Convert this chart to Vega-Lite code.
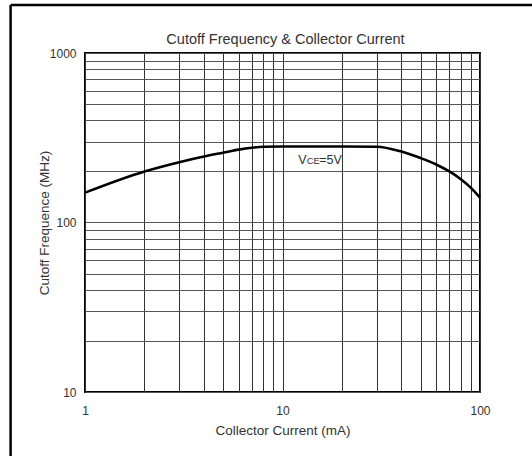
{
  "$schema": "https://vega.github.io/schema/vega-lite/v6.json",
  "autosize": {"type": "none"},
  "width": 395,
  "height": 339,
  "padding": {"left": 85, "top": 53, "right": 52, "bottom": 64},
  "background": "#ffffff",
  "config": {
    "font": "Liberation Sans",
    "view": {"stroke": "#000000", "strokeWidth": 2},
    "axis": {
      "labelFont": "Liberation Sans",
      "titleFont": "Liberation Sans",
      "labelFontSize": 12,
      "titleFontSize": 13.5,
      "titleFontWeight": "normal",
      "labelColor": "#333333",
      "titleColor": "#333333",
      "ticks": false,
      "domain": false,
      "labelOverlap": false,
      "labelFlush": false,
      "gridOpacity": 1
    }
  },
  "title": {
    "text": "Cutoff Frequency & Collector Current",
    "font": "Liberation Sans",
    "fontSize": 14.5,
    "fontWeight": "normal",
    "color": "#333333",
    "offset": -44,
    "frame": "group",
    "anchor": "middle",
    "dx": 3
  },
  "datasets": {
    "curve": [
      {"ic": 1, "ft": 150},
      {"ic": 2, "ft": 200},
      {"ic": 3, "ft": 227},
      {"ic": 4, "ft": 245},
      {"ic": 5, "ft": 258},
      {"ic": 6, "ft": 269},
      {"ic": 7, "ft": 276},
      {"ic": 8, "ft": 280},
      {"ic": 10, "ft": 281},
      {"ic": 20, "ft": 281},
      {"ic": 30, "ft": 280},
      {"ic": 40, "ft": 262},
      {"ic": 50, "ft": 240},
      {"ic": 60, "ft": 220},
      {"ic": 70, "ft": 200},
      {"ic": 80, "ft": 180},
      {"ic": 90, "ft": 160},
      {"ic": 100, "ft": 140}
    ],
    "labelV": [{"ic": 12, "ft": 220, "text": "V"}],
    "labelCE": [{"ic": 12, "ft": 220, "text": "CE"}],
    "label5V": [{"ic": 12, "ft": 220, "text": "=5V"}],
    "frame": [
      {"x1": 0.42, "x2": 0.42, "y1": 1919, "y2": 4},
      {"x1": 0.42, "x2": 200, "y1": 1919, "y2": 1919}
    ]
  },
  "layer": [
    {
      "data": {"name": "curve"},
      "mark": {"type": "line", "color": "#000000", "strokeWidth": 2.6, "interpolate": "monotone"},
      "encoding": {
        "x": {
          "field": "ic", "type": "quantitative",
          "scale": {"type": "log", "domain": [1, 100], "nice": false},
          "axis": {
            "title": "Collector Current (mA)",
            "values": [1,2,3,4,5,6,7,8,9,10,20,30,40,50,60,70,80,90,100],
            "labelExpr": "indexof([1,10,100], datum.value) >= 0 ? format(datum.value, 'd') : ''",
            "gridColor": "#333333",
            "gridWidth": 1,
            "labelPadding": 13,
            "titlePadding": 7
          }
        },
        "y": {
          "field": "ft", "type": "quantitative",
          "scale": {"type": "log", "domain": [10, 1000], "nice": false},
          "axis": {
            "title": "Cutoff Frequence (MHz)",
            "values": [10,20,30,40,50,60,70,80,90,100,200,300,400,500,600,700,800,900,1000],
            "labelExpr": "indexof([10,100,1000], datum.value) >= 0 ? format(datum.value, 'd') : ''",
            "gridColor": "#555555",
            "gridWidth": 1,
            "labelPadding": 9,
            "titlePadding": -2
          }
        }
      }
    },
    {
      "data": {"name": "labelV"},
      "mark": {"type": "text", "align": "left", "baseline": "alphabetic", "color": "#333333", "font": "Liberation Sans", "fontSize": 12.5, "dx": 0},
      "encoding": {
        "x": {"field": "ic", "type": "quantitative"},
        "y": {"field": "ft", "type": "quantitative"},
        "text": {"field": "text"}
      }
    },
    {
      "data": {"name": "labelCE"},
      "mark": {"type": "text", "align": "left", "baseline": "alphabetic", "color": "#333333", "font": "Liberation Sans", "fontSize": 9.5, "dx": 8.5},
      "encoding": {
        "x": {"field": "ic", "type": "quantitative"},
        "y": {"field": "ft", "type": "quantitative"},
        "text": {"field": "text"}
      }
    },
    {
      "data": {"name": "label5V"},
      "mark": {"type": "text", "align": "left", "baseline": "alphabetic", "color": "#333333", "font": "Liberation Sans", "fontSize": 12.5, "dx": 21},
      "encoding": {
        "x": {"field": "ic", "type": "quantitative"},
        "y": {"field": "ft", "type": "quantitative"},
        "text": {"field": "text"}
      }
    },
    {
      "data": {"name": "frame"},
      "mark": {"type": "rule", "color": "#000000", "strokeWidth": 2.5, "clip": false},
      "encoding": {
        "x": {"field": "x1", "type": "quantitative"},
        "x2": {"field": "x2"},
        "y": {"field": "y1", "type": "quantitative"},
        "y2": {"field": "y2"}
      }
    }
  ]
}
